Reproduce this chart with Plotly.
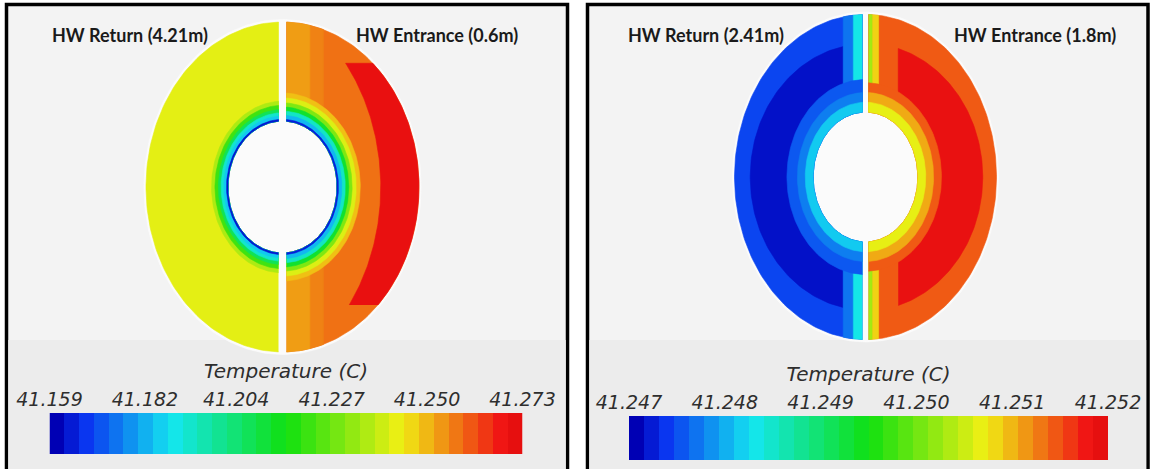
import numpy as np
import plotly.graph_objects as go
from plotly.colors import sample_colorscale

# ---------------------------------------------------------------------------
# Temperature data (deg C)
# ---------------------------------------------------------------------------
# Case A: return at 4.21 m, entrance at 0.6 m
RANGE_A = [41.159, 41.273]
TICKS_A = [41.159, 41.182, 41.204, 41.227, 41.250, 41.273]
A_RETURN_BULK = 41.243
A_RETURN_WALL = [41.162, 41.184, 41.192, 41.207, 41.222, 41.236]          # hole wall outwards
A_ENTRANCE_BULK = 41.259
A_ENTRANCE_NEAR_GAP = [41.254, 41.257]                                    # next to the split, outwards
A_ENTRANCE_HOT = 41.272
A_ENTRANCE_WALL = [41.163, 41.182, 41.193, 41.212, 41.230, 41.242, 41.250]

# Case B: return at 2.41 m, entrance at 1.8 m
RANGE_B = [41.247, 41.252]
TICKS_B = [41.247, 41.248, 41.249, 41.250, 41.251, 41.252]
B_RETURN_RIM = 41.2474
B_RETURN_CORE = 41.2471
B_RETURN_NEAR_GAP = [41.2483, 41.24765]
B_RETURN_WALL = [41.2481, 41.2477, 41.2475]
B_ENTRANCE_RIM = 41.2515
B_ENTRANCE_CORE = 41.25195
B_ENTRANCE_NEAR_GAP = [41.25032, 41.2509]
B_ENTRANCE_WALL = [41.2507, 41.2511, 41.2515]

LABELS_A = ["HW Return (4.21m)", "HW Entrance (0.6m)"]
LABELS_B = ["HW Return (2.41m)", "HW Entrance (1.8m)"]
SCALE_TITLE = "Temperature (C)"

# ---------------------------------------------------------------------------
# Styling / geometry
# ---------------------------------------------------------------------------
W, H = 1150, 469
RAINBOW = [[0.0, "#0000b4"], [0.06, "#0a32f0"], [0.25, "#14e6f0"],
           [0.5, "#10e010"], [0.75, "#f0f014"], [0.97, "#f01414"], [1.0, "#e60f0f"]]
N_BANDS = 32
HEAD_FONT = dict(family="Lato, 'Liberation Sans', sans-serif", size=18, weight=700, color="#1a1a1a")
SCALE_FONT = dict(family="'DejaVu Sans', sans-serif", size=19, style="italic", color="#2e2e2e")


def fx(px):
    return px / W


def fy(py):
    return 1 - py / H


def colour(t, rng):
    f = (t - rng[0]) / (rng[1] - rng[0])
    return sample_colorscale(RAINBOW, [min(max(f, 0.0), 1.0)])[0]


def arc(r, t0, t1, n=120):
    t = np.linspace(t0, t1, n)
    return r * np.cos(t), r * np.sin(t)


def half_band(r_in, r_out, side, cut, squash=1.0):
    """Annular band r_in..r_out on one side of the split, clipped at |x| >= cut.
    The outer edge may be flattened vertically by `squash`."""
    a_out = np.arccos(cut / r_out)
    a_in = np.arccos(cut / r_in)
    xo, yo = arc(r_out, -a_out, a_out)
    xi, yi = arc(r_in, a_in, -a_in)
    return side * np.concatenate([xo, xi]), np.concatenate([yo * squash, yi])


def gap_strip(xa, xb, r_hole, side, part):
    """Vertical strip xa<=|x|<=xb between the bore and the outer wall (part=+1 top, -1 bottom)."""
    xs = np.linspace(xa, xb, 40)
    y_out = np.sqrt(1 - xs ** 2)
    y_in = np.sqrt(r_hole ** 2 - xs ** 2)
    x = np.concatenate([xs, xs[::-1]])
    y = np.concatenate([y_out, y_in[::-1]]) * part
    return side * x, y


def crescent(xc, rho, y_lo, y_hi):
    """Outer crescent: inside the wall, outside circle (xc, rho), between y_lo and y_hi."""
    t = np.linspace(np.arcsin(y_lo), np.arcsin(y_hi), 120)
    yi = np.linspace(y_hi, y_lo, 120)
    xi = xc + np.sqrt(rho ** 2 - yi ** 2)
    return np.concatenate([np.cos(t), xi]), np.concatenate([np.sin(t), yi])


fig = go.Figure()


def poly(x, y, color, ax):
    fig.add_trace(go.Scatter(
        x=x, y=y, mode="lines", fill="toself", fillcolor=color,
        line=dict(width=0.6, color=color), hoverinfo="skip",
        xaxis="x" + ax[0], yaxis="y" + ax[1]))


def draw_section(ax, rng, hole, gap, ret, ent):
    # pale backdrop so the split and the bore read as white
    bx, by = arc(1.015, 0, 2 * np.pi, 240)
    poly(bx, by, "#fbfbfb", ax)
    for side, zones in ((-1, ret), (1, ent)):
        x, y = half_band(hole, 1.0, side, gap)
        poly(x, y, colour(zones["bulk"], rng), ax)
        if "core" in zones:
            x, y = half_band(*zones["core_shape"][:2], side, *zones["core_shape"][2:])
            poly(x, y, colour(zones["core"], rng), ax)
        if "hot" in zones:
            x, y = crescent(*zones["hot_shape"])
            poly(side * x, y, colour(zones["hot"], rng), ax)
        if "near_gap" in zones:
            edges = [gap] + zones["gap_edges"]
            for t, xa, xb in reversed(list(zip(zones["near_gap"], edges[:-1], edges[1:]))):
                for part in (1, -1):
                    x, y = gap_strip(xa, xb, hole, side, part)
                    poly(x, y, colour(t, rng), ax)
        redges = [hole] + zones["wall_edges"]
        bands = list(zip(zones["wall"], redges[:-1], redges[1:]))
        for t, r0, r1 in reversed(bands):
            x, y = half_band(hole, r1, side, gap)
            poly(x, y, colour(t, rng), ax)


# Case A section
draw_section(
    ("", ""), RANGE_A, 0.40, 4 / 136.5,
    dict(bulk=A_RETURN_BULK, wall=A_RETURN_WALL,
         wall_edges=[0.41, 0.43, 0.45, 0.47, 0.495, 0.52]),
    dict(bulk=A_ENTRANCE_BULK, hot=A_ENTRANCE_HOT, hot_shape=(-0.5, 1.22, -0.715, 0.75),
         near_gap=A_ENTRANCE_NEAR_GAP, gap_edges=[0.20, 0.30],
         wall=A_ENTRANCE_WALL, wall_edges=[0.41, 0.435, 0.46, 0.485, 0.51, 0.54, 0.57]),
)

# Case B section
draw_section(
    ("2", "2"), RANGE_B, 0.40, 3 / 131,
    dict(bulk=B_RETURN_RIM, core=B_RETURN_CORE, core_shape=(0.58, 0.88, 0.17, 0.93),
         near_gap=B_RETURN_NEAR_GAP, gap_edges=[0.093, 0.17],
         wall=B_RETURN_WALL, wall_edges=[0.46, 0.52, 0.60]),
    dict(bulk=B_ENTRANCE_RIM, core=B_ENTRANCE_CORE, core_shape=(0.56, 0.895, 0.25, 0.92),
         near_gap=B_ENTRANCE_NEAR_GAP, gap_edges=[0.05, 0.10],
         wall=B_ENTRANCE_WALL, wall_edges=[0.46, 0.52, 0.58]),
)

# Colour scales drawn as banded strips
for ax, rng in (("3", RANGE_A), ("4", RANGE_B)):
    edges = np.linspace(rng[0], rng[1], N_BANDS + 1)
    levels = np.linspace(rng[0], rng[1], N_BANDS)
    fig.add_trace(go.Heatmap(
        x=edges, y=[0, 1], z=[levels], colorscale=RAINBOW, zmin=rng[0], zmax=rng[1],
        showscale=False, zsmooth=False, hoverinfo="skip", xaxis="x" + ax, yaxis="y" + ax))


def field_axes(cx, cy, rx, ry, left, right, top, bottom):
    xa = dict(domain=[fx(left), fx(right)], range=[(left - cx) / rx, (right - cx) / rx],
              visible=False, fixedrange=True, automargin=False)
    ya = dict(domain=[fy(bottom), fy(top)], range=[(cy - bottom) / ry, (cy - top) / ry],
              visible=False, fixedrange=True, automargin=False)
    return xa, ya


def scale_axes(rng, ticks, left, right, top, bottom, anchor):
    xa = dict(domain=[fx(left), fx(right)], range=rng, side="top", anchor=anchor,
              tickvals=ticks, ticktext=[f"{t:.3f}" for t in ticks], ticks="",
              showgrid=False, zeroline=False, showline=False, tickfont=SCALE_FONT,
              ticklabelstandoff=2, automargin=False,
              title=dict(text=SCALE_TITLE, font=SCALE_FONT | dict(size=20), standoff=4))
    ya = dict(domain=[fy(bottom), fy(top)], range=[0, 1], visible=False, automargin=False)
    return xa, ya


xa1, ya1 = field_axes(282.5, 187, 136.5, 165, 8, 565, 6, 360)
xa2, ya2 = field_axes(865.5, 177, 131, 162.5, 590, 1145, 6, 360)
xa3, ya3 = scale_axes(RANGE_A, TICKS_A, 49.5, 522.5, 413, 454, "y3")
xa4, ya4 = scale_axes(RANGE_B, TICKS_B, 629, 1108, 416, 460, "y4")

panels = []
for left, right in ((6.5, 567.5), (587.5, 1148)):
    panels.append(dict(type="rect", xref="paper", yref="paper", layer="below",
                       x0=fx(left), x1=fx(right), y0=fy(490), y1=fy(4.5),
                       fillcolor="#f3f3f3", line=dict(color="black", width=3.5)))
    panels.append(dict(type="rect", xref="paper", yref="paper", layer="below",
                       x0=fx(left + 1.8), x1=fx(right - 1.8), y0=fy(469), y1=fy(340),
                       fillcolor="#ececec", line=dict(width=0)))

heads = []
for text, x, anchor in ((LABELS_A[0], 49.5, "left"), (LABELS_A[1], 520, "right"),
                        (LABELS_B[0], 626, "left"), (LABELS_B[1], 1118, "right")):
    heads.append(dict(text=text, x=fx(x), y=fy(35), xref="paper", yref="paper",
                      xanchor=anchor, yanchor="middle", showarrow=False, font=HEAD_FONT))

fig.update_layout(
    width=W, height=H, margin=dict(l=0, r=0, t=0, b=0, autoexpand=False),
    paper_bgcolor="white", plot_bgcolor="rgba(0,0,0,0)", showlegend=False,
    xaxis=xa1, yaxis=ya1, xaxis2=xa2, yaxis2=ya2,
    xaxis3=xa3, yaxis3=ya3, xaxis4=xa4, yaxis4=ya4,
    shapes=panels, annotations=heads,
)

fig.write_html("out.html")
